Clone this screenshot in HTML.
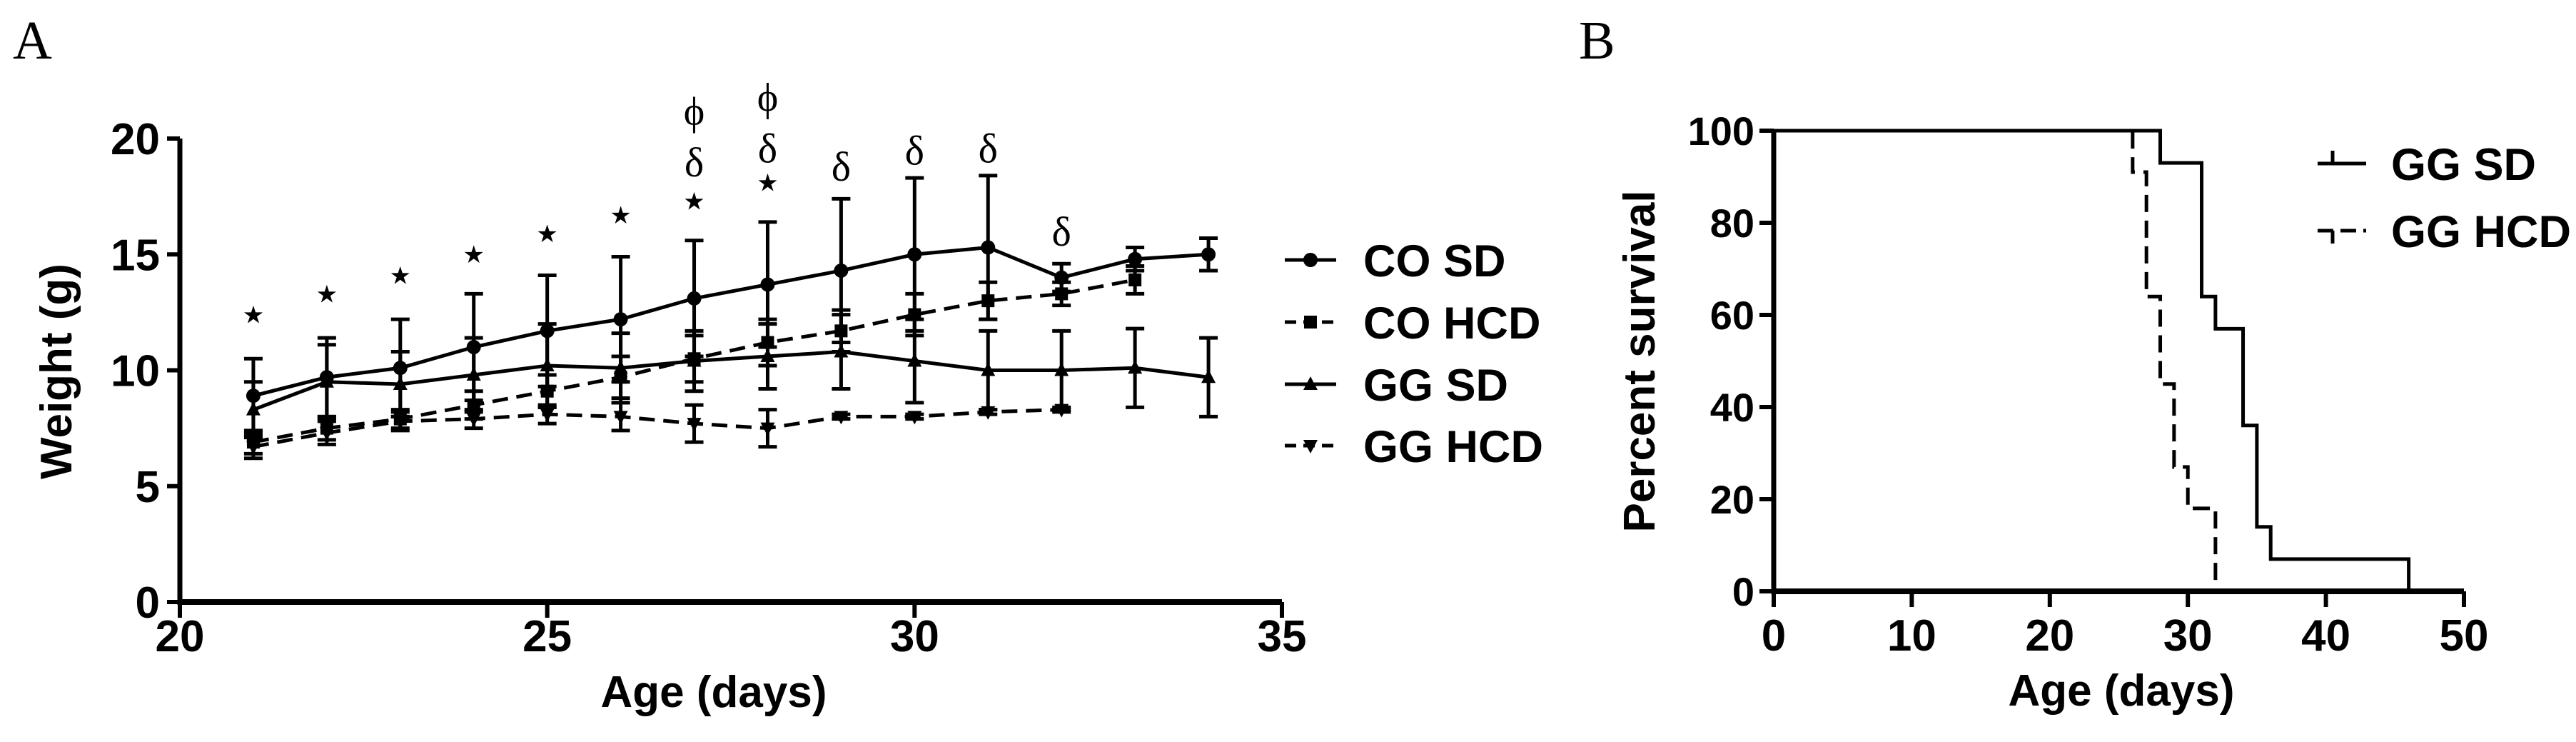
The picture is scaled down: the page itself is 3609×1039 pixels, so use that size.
<!DOCTYPE html>
<html><head><meta charset="utf-8"><style>
html,body{margin:0;padding:0;background:#fff;}
svg{display:block;}
text{font-family:"Liberation Sans",Arial,sans-serif;fill:#000;}
.tk{font-weight:bold;font-size:62px;}
.ti{font-weight:bold;font-size:62px;}
.lg{font-weight:bold;font-size:63px;}
</style></head><body>
<svg id="fig" width="3609" height="1039" viewBox="0 0 3609 1039" xmlns="http://www.w3.org/2000/svg">
<text x="18" y="82" style="font-family:'Liberation Serif',serif;font-size:76px">A</text>
<text x="2212" y="82" style="font-family:'Liberation Serif',serif;font-size:76px">B</text>
<g id="pa"></g>
<g id="pb"></g>
</svg>
<script>
// ---- Panel A data ----
const ageDays = [21,22,23,24,25,26,27,28,29,30,31,32,33,34];
const coSD = [8.9,9.7,10.1,11.0,11.7,12.2,13.1,13.7,14.3,15.0,15.3,14.0,14.8,15.0];
const coSDerr = [1.6,1.7,2.1,2.3,2.4,2.7,2.5,2.7,3.1,3.3,3.1,0.6,0.5,0.7];
const coHCD = [6.9,7.5,7.9,8.5,9.1,9.7,10.5,11.2,11.7,12.4,13.0,13.3,13.9];
const coHCDerr = [0.5,0.5,0.4,0.6,0.7,0.9,1.0,1.0,0.9,0.9,0.8,0.5,0.6];
const ggSD = [8.3,9.5,9.4,9.8,10.2,10.1,10.4,10.6,10.8,10.4,10.0,10.0,10.1,9.7];
const ggSDerr = [1.2,1.6,1.4,1.6,1.8,1.5,1.3,1.4,1.6,1.8,1.7,1.7,1.7,1.7];
const ggHCD = [6.7,7.3,7.8,7.9,8.1,8.0,7.7,7.5,8.0,8.0,8.2,8.3];
const ggHCDerr = [0.5,0.5,0.4,0.4,0.4,0.6,0.8,0.8,0.1,0.1,0.1,0.1];
const starDays = [21,22,23,24,25,26,27,28];
const starY = [12.4,13.3,14.1,15.0,15.9,16.7,17.3,18.1];
const deltaDays = [27,28,29,30,31,32];
const deltaY = [19.0,19.6,18.8,19.5,19.6,16.0];
const phiDays = [27,28];
const phiY = [21.2,21.8];
const xTicksA = [20,25,30,35];
const yTicksA = [0,5,10,15,20];
// ---- Panel B data ----
const sdTimes = [0,28,31,32,34,35,36,46];
const sdSurv = [100,93,64,57,36,14,7,0];
const hcdTimes = [0,26,27,28,29,30,32];
const hcdSurv = [100,91,64,45,27,18,0];
const xTicksB = [0,10,20,30,40,50];
const yTicksB = [0,20,40,60,80,100];

const NS='http://www.w3.org/2000/svg';
function mk(p,t,a){const e=document.createElementNS(NS,t);for(const k in a)e.setAttribute(k,a[k]);p.appendChild(e);return e;}
const pa=document.getElementById('pa'), pb=document.getElementById('pb');
const xA=v=>252+(v-20)*(1796-252)/15, yA=v=>843-v*(843-194)/20;
let e;
e=mk(pa,'line',{x1:xA(20),y1:yA(0),x2:xA(35),y2:yA(0),stroke:'#000','stroke-width':8});

e=mk(pa,'line',{x1:xA(20),y1:yA(0)+4,x2:xA(20),y2:yA(20),stroke:'#000','stroke-width':7});

xTicksA.forEach(t=>{mk(pa,'line',{x1:xA(t),y1:yA(0),x2:xA(t),y2:yA(0)+22,stroke:'#000','stroke-width':6});
 e=mk(pa,'text',{x:xA(t),y:912,'text-anchor':'middle',class:'tk'});e.textContent=t;
 });
yTicksA.forEach(t=>{mk(pa,'line',{x1:xA(20)-18,y1:yA(t),x2:xA(20),y2:yA(t),stroke:'#000','stroke-width':6});
 e=mk(pa,'text',{x:224,y:yA(t)+22,'text-anchor':'end',class:'tk'});e.textContent=t;
 });
e=mk(pa,'text',{x:1000,y:990,'text-anchor':'middle',class:'ti'});e.textContent='Age (days)';

e=mk(pa,'text',{x:0,y:0,'text-anchor':'middle',class:'ti',transform:'translate(100,520) rotate(-90)'});e.textContent='Weight (g)';


function marker(g,type,x,y){
 if(type==='circle')mk(g,'circle',{cx:x,cy:y,r:10,fill:'#000'});
 else if(type==='square')mk(g,'rect',{x:x-9,y:y-9,width:18,height:18,fill:'#000'});
 else if(type==='up')mk(g,'polygon',{points:`${x},${y-11} ${x-10},${y+8} ${x+10},${y+8}`,fill:'#000'});
 else mk(g,'polygon',{points:`${x},${y+11} ${x-10},${y-8} ${x+10},${y-8}`,fill:'#000'});
}
function series(name,vals,errs,dash,type){
 const g=mk(pa,'g',{});
 vals.forEach((v,i)=>{const x=xA(ageDays[i]);const t=yA(v+errs[i]),b=yA(v-errs[i]);
  mk(g,'line',{x1:x,y1:t,x2:x,y2:b,stroke:'#000','stroke-width':5});
  mk(g,'line',{x1:x-13,y1:t,x2:x+13,y2:t,stroke:'#000','stroke-width':5});
  mk(g,'line',{x1:x-13,y1:b,x2:x+13,y2:b,stroke:'#000','stroke-width':5});});
 const pts=vals.map((v,i)=>xA(ageDays[i])+','+yA(v)).join(' ');
 const a={points:pts,fill:'none',stroke:'#000','stroke-width':5};if(dash)a['stroke-dasharray']=dash;
 mk(g,'polyline',a);
 vals.forEach((v,i)=>marker(g,type,xA(ageDays[i]),yA(v)));
}
series('series-co-sd',coSD,coSDerr,null,'circle');
series('series-co-hcd',coHCD,coHCDerr,'22 12','square');
series('series-gg-sd',ggSD,ggSDerr,null,'up');
series('series-gg-hcd',ggHCD,ggHCDerr,'22 12','down');
function annot(days,ys,ch,name,fs,font){days.forEach((d,i)=>{e=mk(pa,'text',{x:xA(d),y:yA(ys[i])+fs*0.35,'text-anchor':'middle',style:`font-family:${font};font-size:${fs}px`});e.textContent=ch;
 });}
annot(starDays,starY,'★','significance-star',34,"'DejaVu Sans',sans-serif");
annot(deltaDays,deltaY,'δ','significance-delta',58,"'Liberation Serif',serif");
annot(phiDays,phiY,'ϕ','significance-phi',56,"'Liberation Serif',serif");
const legA=[['CO SD',null,'circle'],['CO HCD','16 10','square'],['GG SD',null,'up'],['GG HCD','16 10','down']];
const legAy=[364,451,538,624];
legA.forEach((l,i)=>{const g=mk(pa,'g',{});
 const a={x1:1800,y1:legAy[i],x2:1872,y2:legAy[i],stroke:'#000','stroke-width':5};if(l[1])a['stroke-dasharray']=l[1];
 mk(g,'line',a);marker(g,l[2],1836,legAy[i]);
 const t=mk(g,'text',{x:1910,y:legAy[i]+23,class:'lg'});t.textContent=l[0];});

// ---- Panel B ----
const xB=v=>2485+v*(3452-2485)/50, yB=v=>828-v*(828-183)/100;
e=mk(pb,'line',{x1:xB(0),y1:yB(0),x2:xB(50),y2:yB(0),stroke:'#000','stroke-width':8});

e=mk(pb,'line',{x1:xB(0),y1:yB(0)+4,x2:xB(0),y2:yB(100),stroke:'#000','stroke-width':7});

xTicksB.forEach(t=>{mk(pb,'line',{x1:xB(t),y1:yB(0),x2:xB(t),y2:yB(0)+22,stroke:'#000','stroke-width':6});
 e=mk(pb,'text',{x:xB(t),y:911,'text-anchor':'middle',class:'tk'});e.textContent=t;
 });
yTicksB.forEach(t=>{mk(pb,'line',{x1:xB(0)-20,y1:yB(t),x2:xB(0),y2:yB(t),stroke:'#000','stroke-width':6});
 e=mk(pb,'text',{x:2458,y:yB(t)+20,'text-anchor':'end',class:'tk',style:'font-size:56px'});e.textContent=t;
 });
e=mk(pb,'text',{x:2972,y:988,'text-anchor':'middle',class:'ti'});e.textContent='Age (days)';

e=mk(pb,'text',{x:0,y:0,'text-anchor':'middle',class:'ti',transform:'translate(2318,506) rotate(-90)'});e.textContent='Percent survival';

function km(times,surv,dash,name){let d=`M${xB(times[0])},${yB(surv[0])}`;
 for(let i=1;i<times.length;i++){d+=` H${xB(times[i])} V${yB(surv[i])}`;}
 const a={d:d,fill:'none',stroke:'#000','stroke-width':5};if(dash)a['stroke-dasharray']=dash;
 e=mk(pb,'path',a);}
km(sdTimes,sdSurv,null,'survival-gg-sd');
km(hcdTimes,hcdSurv,'24 12','survival-gg-hcd');
[['GG SD',null,229],['GG HCD','22 10',323]].forEach(l=>{const g=mk(pb,'g',{});
 const a={x1:3247,y1:l[2],x2:3315,y2:l[2],stroke:'#000','stroke-width':5};if(l[1])a['stroke-dasharray']=l[1];
 mk(g,'line',a);mk(g,'line',{x1:3268,y1:l[2]-(l[1]?0:18),x2:3268,y2:l[2]+(l[1]?18:0),stroke:'#000','stroke-width':5});
 const t=mk(g,'text',{x:3350,y:l[2]+23,class:'lg'});t.textContent=l[0];});
</script>
</body></html>
